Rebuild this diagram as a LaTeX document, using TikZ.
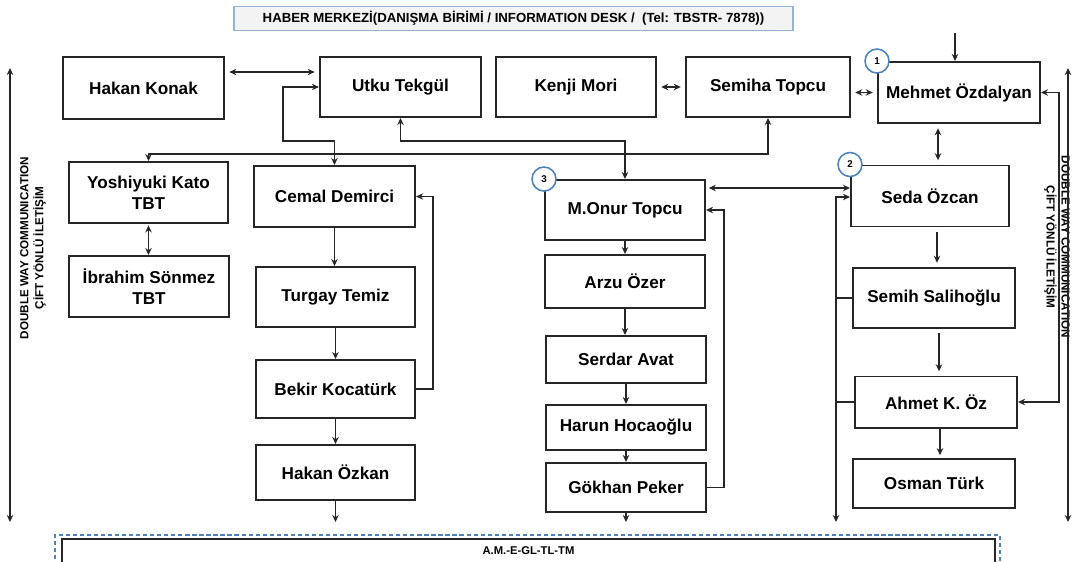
\documentclass[tikz,border=0pt]{standalone}
\usepackage{fontspec}
\setmainfont{Liberation Sans}
\usetikzlibrary{arrows.meta}
% colours of the frames
\definecolor{ringblue}{RGB}{79,129,189}
\definecolor{deskline}{RGB}{149,179,215}
\definecolor{deskfill}{RGB}{243,243,243}

\begin{document}
\begin{tikzpicture}[x=0.025cm, y=-0.025cm,
    box/.style={draw=black!85, line width=1.4pt, fill=white, inner sep=0pt, align=center,
        font=\fontsize{12.2}{15}\selectfont\bfseries},
    badge/.style={circle, draw=ringblue, line width=1.1pt, fill=white, minimum size=0.6cm,
        inner sep=0pt, font=\fontsize{7}{8}\selectfont\bfseries},
    sidetext/.style={align=center, font=\fontsize{8.3}{10.6}\selectfont\bfseries},
    link/.style={line width=1.1pt, draw=black!85},
    arr/.style={link, -{Stealth[length=5pt,width=4.6pt]}},
    dbl/.style={link, {Stealth[length=5pt,width=4.6pt]}-{Stealth[length=5pt,width=4.6pt]}},
    gap/.style={shorten <=3pt, shorten >=3pt}]
    \useasboundingbox (0,0) rectangle (1072,561);

    \node[draw=deskline, line width=1pt, fill=deskfill, minimum width=13.975cm, minimum height=0.575cm,
        font=\fontsize{9.4}{10}\selectfont\bfseries] (desk) at (513.5,18.5)
        {HABER MERKEZİ(DANIŞMA BİRİMİ / INFORMATION DESK /\ \ (Tel: TBSTR- 7878))};

    \node[box, minimum width=4.03cm, minimum height=1.55cm] (hakank) at (143.5,88) {Hakan Konak};
    \node[box, minimum width=4.03cm, minimum height=1.5cm] (utku) at (400.5,87) {Utku Tekgül};
    \node[box, minimum width=4cm, minimum height=1.5cm] (kenji) at (576,87) {Kenji Mori};
    \node[box, minimum width=4.1cm, minimum height=1.5cm] (semiha) at (768,87) {Semiha Topcu};
    \node[box, minimum width=4.05cm, minimum height=1.525cm] (mehmet) at (959,92.5) {Mehmet Özdalyan};

    \node[box, minimum width=3.98cm, minimum height=1.525cm] (yoshi) at (148.5,192.5) {Yoshiyuki Kato\\TBT};
    \node[box, minimum width=4cm, minimum height=1.525cm] (ibrahim) at (149,286.5) {İbrahim Sönmez\\TBT};

    \node[box, minimum width=4.03cm, minimum height=1.525cm] (cemal) at (334.5,196.5) {Cemal Demirci};
    \node[box, minimum width=3.98cm, minimum height=1.5cm] (turgay) at (335.5,297) {Turgay Temiz};
    \node[box, minimum width=3.98cm, minimum height=1.45cm] (bekir) at (335.5,389) {Bekir Kocatürk};
    \node[box, minimum width=3.98cm, minimum height=1.375cm] (hakano) at (335.5,472.5) {Hakan Özkan};

    \node[box, minimum width=4cm, minimum height=1.5cm] (onur) at (625,210) {M.Onur Topcu};
    \node[box, minimum width=4cm, minimum height=1.325cm] (arzu) at (625,281.5) {Arzu Özer};
    \node[box, minimum width=4cm, minimum height=1.175cm] (serdar) at (626,359.5) {Serdar Avat};
    \node[box, minimum width=4cm, minimum height=1.125cm] (harun) at (626,427.5) {Harun Hocaoğlu};
    \node[box, minimum width=4cm, minimum height=1.225cm] (gokhan) at (626,487.5) {Gökhan Peker};

    \node[box, minimum width=3.95cm, minimum height=1.525cm] (seda) at (930,196) {Seda Özcan};
    \node[box, minimum width=4.05cm, minimum height=1.5cm] (semih) at (934,298) {Semih Salihoğlu};
    \node[box, minimum width=4.05cm, minimum height=1.275cm] (ahmet) at (936,402) {Ahmet K. Öz};
    \node[box, minimum width=4.05cm, minimum height=1.225cm] (osman) at (934,483.5) {Osman Türk};

    \node[badge] (ring1) at (mehmet.north west) {1};
    \node[badge] (ring2) at (seda.north west) {2};
    \node[badge] (ring3) at (onur.north west) {3};

    \node[draw=ringblue, line width=1.2pt, dash pattern=on 3pt off 2pt, minimum width=23.625cm,
        minimum height=0.75cm] (basebar) at (527.5,550) {};
    \node[draw=black!85, line width=1.4pt, fill=white, minimum width=23.325cm, minimum height=0.6cm,
        font=\fontsize{8}{9}\selectfont\bfseries] (team) at (528.5,551) {A.M.-E-GL-TL-TM};

    \coordinate (floor) at (0,522);
    \coordinate (deskdrop) at (955,33);
    \coordinate (spine) at (836,197);
    \coordinate (lefttop) at (10,68);
    \coordinate (righttop) at (1068,68);

    \node[sidetext, rotate=90] (leftnote) at (33,248) {DOUBLE WAY COMMUNICATION\\ÇİFT YÖNLÜ İLETİŞİM};
    \node[sidetext, rotate=-90] (rightnote) at (1057,247) {DOUBLE WAY COMMUNICATION\\ÇİFT YÖNLÜ İLETİŞİM};
    \draw[dbl] (lefttop) -- (lefttop |- floor);
    \draw[dbl] (righttop) -- (righttop |- floor);

    \draw[arr] (deskdrop) -- (deskdrop |- mehmet.north);
    \draw[dbl, gap] (hakank.east |- 0,72) -- (utku.west |- 0,72);
    \draw[dbl] (cemal.north) -- ++(0,-24) -| (283,87) -- (utku.west);
    \draw[dbl] (utku.south) -- ++(0,23) -| (onur.north);
    \draw[dbl] (semiha.south) -- ++(0,36) -| (yoshi.north);
    \draw[dbl, gap] (kenji.east) -- (semiha.west);
    \draw[dbl, gap] (semiha.east |- mehmet.west) -- (mehmet.west);
    \draw[dbl, gap] (mehmet.south -| 938,0) -- (seda.north -| 938,0);
    \draw[dbl] (mehmet.east) -- ++(18,0) |- (ahmet.east);

    \draw[dbl, shorten <=1pt] (yoshi.south) -- (yoshi.south |- ibrahim.north);
    \draw[arr] (cemal.south) -- (cemal.south |- turgay.north);
    \draw[arr] (turgay.south) -- (turgay.south |- bekir.north);
    \draw[arr] (bekir.south) -- (bekir.south |- hakano.north);
    \draw[arr] (hakano.south) -- (hakano.south |- floor);
    \draw[arr] (bekir.east) -- ++(17,0) |- (cemal.east);

    \draw[arr] (onur.south) -- (onur.south |- arzu.north);
    \draw[arr] (arzu.south) -- (arzu.south |- serdar.north);
    \draw[arr] (serdar.south) -- (serdar.south |- harun.north);
    \draw[arr] (harun.south) -- (harun.south |- gokhan.north);
    \draw[arr] (gokhan.south) -- (gokhan.south |- floor);
    \draw[arr] (gokhan.east) -- ++(17,0) |- (onur.east);
    \draw[dbl, shorten <=2pt] (onur.east |- 0,188) -- (seda.west |- 0,188);

    \draw[dbl] (seda.west |- spine) -- (spine) -- (spine |- floor);
    \draw[link] (spine |- semih.west) -- (semih.west);
    \draw[link] (spine |- ahmet.west) -- (ahmet.west);
    \draw[arr, gap] (seda.south -| 937,0) -- (semih.north -| 937,0);
    \draw[arr, gap] (semih.south -| 939,0) -- (ahmet.north -| 939,0);
    \draw[arr, shorten >=2pt] (ahmet.south -| 940,0) -- (osman.north -| 940,0);
\end{tikzpicture}
\end{document}
